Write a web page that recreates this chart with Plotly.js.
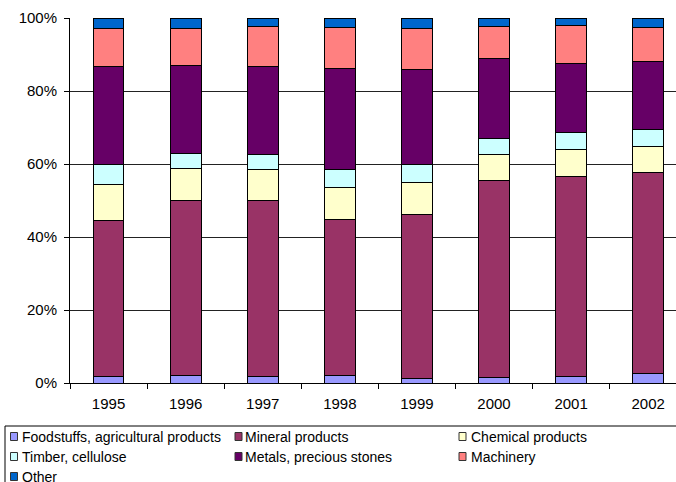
<!DOCTYPE html>
<html>
<head>
<meta charset="utf-8">
<script src="https://cdn.plot.ly/plotly-3.0.1.min.js"></script>
<style>
  html, body { margin: 0; padding: 0; background: #fff; }
  #chart { width: 676px; height: 482px; }
</style>
</head>
<body>
<div id="chart"></div>
<script>
// Export structure by commodity group, share of total (%)
const years = ['1995', '1996', '1997', '1998', '1999', '2000', '2001', '2002'];

const foodstuffs = [1.8, 2.0, 1.8, 2.1, 1.3, 1.5, 1.9, 2.5];
const mineral    = [42.7, 47.9, 48.3, 42.8, 45.0, 53.9, 54.7, 55.3];
const chemical   = [10.0, 8.8, 8.4, 8.7, 8.5, 7.2, 7.5, 7.0];
const timber     = [5.5, 4.2, 4.2, 4.8, 5.0, 4.4, 4.4, 4.7];
const metals     = [26.7, 24.1, 24.1, 27.9, 26.2, 21.8, 18.9, 18.5];
const machinery  = [10.3, 10.2, 10.8, 11.2, 11.0, 8.8, 10.5, 9.5];
const other      = [3.0, 2.8, 2.4, 2.5, 3.0, 2.4, 2.1, 2.5];

const seriesNames = [
  'Foodstuffs, agricultural products', 'Mineral products', 'Chemical products',
  'Timber, cellulose', 'Metals, precious stones', 'Machinery', 'Other'
];
const seriesValues = [foodstuffs, mineral, chemical, timber, metals, machinery, other];
const seriesColors = ['#9999FF', '#993366', '#FFFFCC', '#CCFFFF', '#660066', '#FF8080', '#0066CC'];

const FONT = 'Liberation Sans, Arial, sans-serif';

// Plot geometry in pixels
const W = 676, H = 482;
const M = { l: 70, r: 0, t: 18, b: 99 };
const plotW = W - M.l - M.r;
const plotH = H - M.t - M.b;
const px2x = px => (px - M.l) / plotW;
const py2y = py => (H - M.b - py) / plotH;

const traces = seriesNames.map((name, i) => ({
  type: 'bar',
  name: name,
  x: years,
  y: seriesValues[i],
  marker: { color: seriesColors[i], line: { color: '#000', width: 1 } },
  showlegend: false,
  hoverinfo: 'x+y+name'
}));

// Boxed legend below the chart, three entries per row
const shapes = [{
  type: 'rect', xref: 'paper', yref: 'paper',
  x0: px2x(5), x1: px2x(690), y0: py2y(426), y1: py2y(495),
  line: { color: '#000', width: 1 }, fillcolor: 'rgba(0,0,0,0)'
}];
const annotations = [];
const colMarker = [14, 238.5, 462.5];
const colText = [21, 243.5, 470];
const rowY = [436.5, 456.5, 476.5];
seriesNames.forEach((name, i) => {
  const c = i % 3, r = Math.floor(i / 3);
  const cx = colMarker[c], cy = rowY[r];
  shapes.push({
    type: 'rect', xref: 'paper', yref: 'paper',
    x0: px2x(cx - 3.5), x1: px2x(cx + 3.5), y0: py2y(cy + 4), y1: py2y(cy - 4),
    fillcolor: seriesColors[i], line: { color: '#333', width: 1 }
  });
  annotations.push({
    xref: 'paper', yref: 'paper', x: px2x(colText[c]), y: py2y(cy),
    xanchor: 'left', yanchor: 'middle', showarrow: false, borderpad: 0,
    text: name, font: { family: FONT, size: 14, color: '#000' }
  });
});

const layout = {
  width: W, height: H,
  margin: M,
  paper_bgcolor: '#fff', plot_bgcolor: '#fff',
  barmode: 'stack',
  bargap: 0.6,
  font: { family: FONT, size: 15, color: '#000' },
  xaxis: {
    type: 'category',
    range: [-0.5, -0.5 + plotW / 77.09],
    showline: true, linecolor: '#000', linewidth: 1,
    ticks: 'outside', tickson: 'boundaries', ticklen: 5, tickcolor: '#000',
    ticklabelstandoff: 7,
    showgrid: false, zeroline: false,
    tickfont: { family: FONT, size: 15, color: '#000' }
  },
  yaxis: {
    range: [0, 100],
    dtick: 20, ticksuffix: '%',
    showline: true, linecolor: '#000', linewidth: 1,
    ticks: 'outside', ticklen: 5, tickcolor: '#000',
    ticklabelstandoff: 4,
    showgrid: true, gridcolor: '#222', gridwidth: 1,
    zeroline: false,
    tickfont: { family: FONT, size: 15, color: '#000' }
  },
  shapes: shapes,
  annotations: annotations
};

Plotly.newPlot('chart', traces, layout, { displayModeBar: false, staticPlot: true });
</script>
</body>
</html>
